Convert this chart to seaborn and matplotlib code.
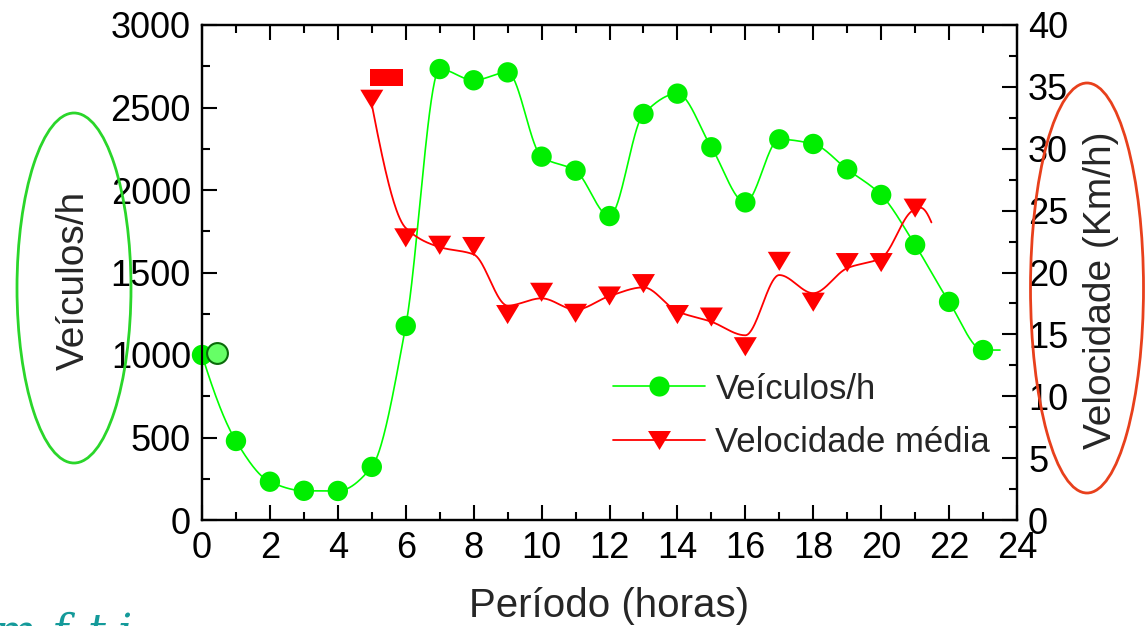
import numpy as np
import matplotlib
matplotlib.use("Agg")
import matplotlib.pyplot as plt
import seaborn as sns
from matplotlib.patches import Ellipse, Rectangle
from matplotlib.lines import Line2D
from matplotlib.ticker import MultipleLocator

# ---------------- data ----------------
hours_veic = list(range(0, 24))
veiculos = [1000, 479, 232, 177, 176, 322, 1176, 2733, 2665, 2713, 2202, 2117,
            1842, 2461, 2584, 2259, 1925, 2307, 2279, 2125, 1970, 1667, 1322, 1030]
hours_vel = list(range(5, 22))
velocidade = [34.0, 22.8, 22.2, 22.1, 16.6, 18.4, 16.7, 18.1, 19.1, 16.6, 16.4,
              14.0, 20.9, 17.6, 20.8, 20.8, 25.2]
x_ticks = list(range(0, 25, 2))
left_ticks = [0, 500, 1000, 1500, 2000, 2500, 3000]
right_ticks = [0, 5, 10, 15, 20, 25, 30, 35, 40]
series_labels = ["Veículos/h", "Velocidade média"]
x_title = "Período (horas)"
left_title = "Veículos/h"
right_title = "Velocidade (Km/h)"


# ------------- smooth connecting curve (drawing style only) -------------
def whittaker(y, lam):
    y = np.asarray(y, float)
    n = len(y)
    D = np.diff(np.eye(n), 2, axis=0)
    return np.linalg.solve(np.eye(n) + lam * D.T @ D, y)


def pchip_curve(x, y, extend, drop, per_seg=40):
    x = np.asarray(x, float)
    y = np.asarray(y, float)
    n = len(x)
    h = np.diff(x)
    d = np.diff(y) / h
    m = np.zeros(n)
    for k in range(1, n - 1):
        if d[k - 1] * d[k] > 0:
            w1 = 2 * h[k] + h[k - 1]
            w2 = h[k] + 2 * h[k - 1]
            m[k] = (w1 + w2) / (w1 / d[k - 1] + w2 / d[k])
    m0 = ((2 * h[0] + h[1]) * d[0] - h[0] * d[1]) / (h[0] + h[1])
    if np.sign(m0) != np.sign(d[0]):
        m0 = 0.0
    m[0] = m0
    m[-1] = 0.0
    xs_all, ys_all = [], []
    for k in range(n - 1):
        t = np.linspace(0, 1, per_seg, endpoint=False)
        h00 = 2 * t**3 - 3 * t**2 + 1
        h10 = t**3 - 2 * t**2 + t
        h01 = -2 * t**3 + 3 * t**2
        h11 = t**3 - t**2
        xs_all.append(x[k] + t * h[k])
        ys_all.append(h00 * y[k] + h10 * h[k] * m[k] + h01 * y[k + 1] + h11 * h[k] * m[k + 1])
    te = np.linspace(0, 1, per_seg)
    xs_all.append(x[-1] + te * extend)
    ys_all.append(y[-1] + 0.35 * drop * np.sin(np.pi * te) - drop * te**2)
    return np.concatenate(xs_all), np.concatenate(ys_all)


GREEN_LINE = "#00ff00"
GREEN_MK = "#00ee00"
RED = "#ff0000"

sns.set_style("ticks")
plt.rcParams["font.family"] = ["Liberation Sans", "DejaVu Sans"]

fig = plt.figure(figsize=(11.48, 6.26), dpi=100)
ax = fig.add_axes([202 / 1148, 1 - 520 / 626, 815 / 1148, 495 / 626])
ax2 = ax.twinx()

# green series
gx, gy = pchip_curve(hours_veic, veiculos, 0.5, 0.0)
sns.lineplot(x=gx, y=gy, ax=ax, color=GREEN_LINE, lw=1.2, estimator=None, sort=False)
sns.scatterplot(x=hours_veic, y=veiculos, ax=ax, marker="o", s=215, color=GREEN_MK,
                edgecolor="none", linewidth=0, zorder=5)
ax.collections[-1].set_clip_on(False)

# red series
tri = [(-1.0, 0.83), (1.0, 0.83), (0.0, -0.83)]
rx, ry = pchip_curve(hours_vel, whittaker(velocidade, 0.05), 0.48, 1.0)
sns.lineplot(x=rx, y=ry, ax=ax2, color=RED, lw=1.3, estimator=None, sort=False)
sns.scatterplot(x=hours_vel, y=velocidade, ax=ax2, marker=tri, s=275, color=RED,
                edgecolor="none", linewidth=0, zorder=5)

# stray marks present in the original image
ax.add_patch(Rectangle((4.95, 2630), 0.97, 103, facecolor=RED, edgecolor="none", zorder=6))
ax.plot([0.43], [1010], marker="o", ms=15, mfc="#66ff66", mec="#0a6a0a", mew=1.5,
        clip_on=False, zorder=6)

# axes
ax.set_xlim(0, 24)
ax.set_ylim(0, 3000)
ax2.set_ylim(0, 40)
ax.set_xticks(x_ticks)
ax.set_yticks(left_ticks)
ax2.set_yticks(right_ticks)
ax.xaxis.set_minor_locator(MultipleLocator(1))
ax.yaxis.set_minor_locator(MultipleLocator(250))
ax2.yaxis.set_minor_locator(MultipleLocator(2.5))
ax.set_xticklabels([str(v) for v in x_ticks])
ax.set_yticklabels([str(v) for v in left_ticks])
ax2.set_yticklabels([str(v) for v in right_ticks])
ax.set_xlabel("")
ax.set_ylabel("")
ax2.set_ylabel("")

ax.tick_params(which="both", direction="in", top=True, right=False, width=1.5,
               labelsize=26, colors="black", pad=8)
ax.tick_params(which="major", length=11)
ax.tick_params(which="minor", length=6)
ax2.tick_params(which="both", direction="in", right=True, width=1.5, labelsize=26,
                colors="black", pad=8)
ax2.tick_params(which="major", length=11)
ax2.tick_params(which="minor", length=6)
for a in (ax, ax2):
    for s in a.spines.values():
        s.set_visible(True)
        s.set_linewidth(1.6)
        s.set_color("black")

# axis titles
fig.text(74 / 1148, 1 - 280 / 626, left_title, rotation=90, ha="center", va="center",
         fontsize=28)
fig.text(1101 / 1148, 1 - 290 / 626, right_title, rotation=90, ha="center", va="center",
         fontsize=28)
fig.text(609 / 1148, 1 - 606 / 626, x_title, ha="center", va="center", fontsize=29)

# ellipses
fig.patches.append(Ellipse((74 / 1148, 1 - 288 / 626), 114 / 1148, 350 / 626,
                           transform=fig.transFigure, fill=False, edgecolor="#2ad62a",
                           lw=2, figure=fig))
fig.patches.append(Ellipse((1087 / 1148, 1 - 288 / 626), 113 / 1148, 410 / 626,
                           transform=fig.transFigure, fill=False, edgecolor="#e8401c",
                           lw=2, figure=fig))

# legend
handles = [
    Line2D([], [], color=GREEN_LINE, lw=1.2, marker="o", ms=14.5, mfc=GREEN_MK, mec="none"),
    Line2D([], [], color=RED, lw=1.3, marker=tri, ms=16.5, mfc=RED, mec="none"),
]
leg = ax2.legend(handles, series_labels, loc="center left",
                 bbox_to_anchor=(613 / 1148, 1 - 416 / 626),
                 bbox_transform=fig.transFigure, frameon=False, fontsize=25,
                 handlelength=2.65, handletextpad=0.3, labelspacing=0.6,
                 borderpad=0, borderaxespad=0, numpoints=1)

# cut-off watermark at the bottom-left corner (only its top edge is visible)
for ch, xp in [("m", -6), ("f", 52), ("t", 88), ("i", 118)]:
    fig.text(xp / 1148, -20 / 626, ch, color="#149a9a", fontsize=32,
             family="DejaVu Serif", style="italic", ha="left", va="baseline")

fig.savefig("out.png", dpi=100)
